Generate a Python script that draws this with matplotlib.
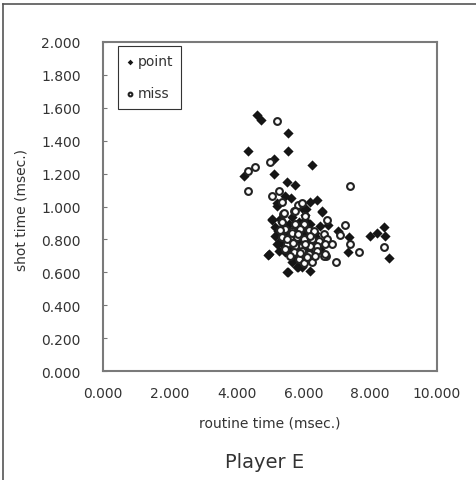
import matplotlib
matplotlib.use("Agg")
import matplotlib.pyplot as plt
from matplotlib.lines import Line2D

# routine time (x) / shot time (y) for successful shots
point_x = [4.60, 4.72, 5.55, 4.35, 5.55, 6.25, 4.23, 5.12, 5.12, 5.52, 5.75, 5.45,
           5.62, 5.22, 6.20, 6.42, 6.08, 5.05, 5.35, 6.05, 4.95, 5.53, 5.85, 6.55,
           6.75, 7.05, 7.37, 7.35, 7.99, 8.19, 8.41, 8.45, 8.57,
           5.21, 5.96, 6.56, 5.06, 5.31, 5.66, 6.06, 5.16, 5.31, 5.56, 5.86, 6.21,
           6.51, 5.16, 5.46, 5.71, 6.11, 6.36, 5.21, 5.41, 5.61, 5.86, 6.11, 6.31,
           6.51, 4.96, 5.26, 5.46, 5.66, 5.76, 6.06, 6.26, 5.96, 6.21, 5.51, 5.81,
           5.40, 5.50, 5.60, 5.70, 5.80, 5.90, 6.00, 5.55, 5.65, 5.90, 6.15, 5.30,
           5.45, 6.00, 5.75, 6.35, 5.85, 5.25]
point_y = [1.556, 1.528, 1.445, 1.337, 1.337, 1.252, 1.183, 1.289, 1.198, 1.147, 1.133, 1.066,
           1.052, 1.021, 1.029, 1.041, 0.985, 0.920, 0.903, 0.948, 0.705, 0.603, 0.630, 0.968,
           0.888, 0.853, 0.812, 0.721, 0.822, 0.839, 0.873, 0.818, 0.685,
           1.005, 0.991, 0.970, 0.924, 0.924, 0.934, 0.918, 0.873, 0.853, 0.893, 0.903, 0.893,
           0.883, 0.822, 0.822, 0.832, 0.832, 0.822, 0.771, 0.761, 0.782, 0.782, 0.782, 0.782,
           0.741, 0.711, 0.731, 0.721, 0.700, 0.680, 0.691, 0.711, 0.630, 0.610, 0.600, 0.630,
           0.800, 0.840, 0.760, 0.790, 0.860, 0.750, 0.810, 0.720, 0.660, 0.690, 0.740, 0.790,
           0.870, 0.860, 0.740, 0.840, 0.780, 0.850]

# missed shots
miss_x = [5.21, 4.55, 4.35, 5.00, 4.35, 5.28, 5.05, 5.37, 5.85, 5.96, 5.73, 5.38,
          7.40, 6.70, 7.25, 7.10, 7.40, 7.67, 6.98, 6.67, 8.42,
          5.41, 5.76, 6.04, 5.36, 5.76, 6.01, 5.46, 5.66, 5.91, 6.16, 6.31, 6.61,
          5.36, 5.61, 5.81, 6.01, 6.26, 6.46, 6.71, 5.51, 5.76, 5.96, 6.21, 6.41,
          6.66, 5.71, 5.96, 6.16, 6.41, 6.61, 5.86, 6.01, 6.26, 6.66, 6.86,
          5.50, 5.65, 5.85, 6.05, 5.90, 5.45, 6.20, 5.70, 6.10, 5.30, 6.35, 5.60]
miss_y = [1.520, 1.241, 1.217, 1.272, 1.092, 1.096, 1.062, 1.025, 1.009, 1.021, 0.971, 0.952,
          1.123, 0.918, 0.888, 0.826, 0.772, 0.725, 0.661, 0.701, 0.752,
          0.958, 0.970, 0.944, 0.903, 0.893, 0.893, 0.863, 0.853, 0.863, 0.857, 0.853, 0.832,
          0.812, 0.812, 0.812, 0.802, 0.802, 0.792, 0.802, 0.771, 0.761, 0.761, 0.761, 0.761,
          0.771, 0.721, 0.731, 0.711, 0.731, 0.700, 0.680, 0.654, 0.660, 0.711, 0.771,
          0.800, 0.840, 0.830, 0.770, 0.720, 0.740, 0.820, 0.780, 0.690, 0.860, 0.700, 0.700]

xticks = [0, 2, 4, 6, 8, 10]
yticks = [0, 0.2, 0.4, 0.6, 0.8, 1.0, 1.2, 1.4, 1.6, 1.8, 2.0]

txt = "#333333"
fig = plt.figure(figsize=(4.76, 4.81), dpi=100)
ax = fig.add_axes([103/476, 1 - 372/481, 334/476, 329/481])

ax.scatter(point_x, point_y, marker="D", s=27, color="#151515", linewidths=0, label="point", zorder=3)
ax.scatter(miss_x, miss_y, marker="o", s=24, facecolor="white", edgecolor="#222222",
           linewidths=1.5, label="miss", zorder=3)

ax.set_xlim(0, 10)
ax.set_ylim(0, 2)
ax.set_xticks(xticks)
ax.set_yticks(yticks)
ax.set_xticklabels([f"{v:.3f}" for v in xticks])
ax.set_yticklabels([f"{v:.3f}" for v in yticks])
ax.tick_params(axis="y", direction="in", length=3, color="#777777", pad=16, labelsize=10, labelcolor=txt)
ax.tick_params(axis="x", length=0, pad=11, labelsize=10, labelcolor=txt)
for s in ax.spines.values():
    s.set_color("#7a7a7a")
    s.set_linewidth(1.5)

ax.set_xlabel("routine time (msec.)", fontsize=10, color=txt, labelpad=11)
fig.text(22/476, 1 - 210/481, "shot time (msec.)", rotation=90, ha="center", va="center",
         fontsize=10, color=txt)
fig.text(265/476, 1 - 462/481, "Player E", ha="center", va="center", fontsize=14, color=txt)

leg = ax.legend(loc="upper left", bbox_to_anchor=(15/334, 1 - 4/329), fontsize=10,
                labelspacing=1.3, handlelength=0.5, handletextpad=0.3, borderpad=0.6,
                markerscale=0.55, fancybox=False, framealpha=1, borderaxespad=0)
leg.get_frame().set_edgecolor("#333333")
leg.get_frame().set_linewidth(0.8)
for t in leg.get_texts():
    t.set_color(txt)

# outer border (top and left edges only)
fig.add_artist(Line2D([3/476, 3/476], [0, 1 - 5/481], color="#555555", lw=1.2))
fig.add_artist(Line2D([3/476, 1], [1 - 5/481, 1 - 5/481], color="#555555", lw=1.2))

fig.savefig("out.png", dpi=100)
